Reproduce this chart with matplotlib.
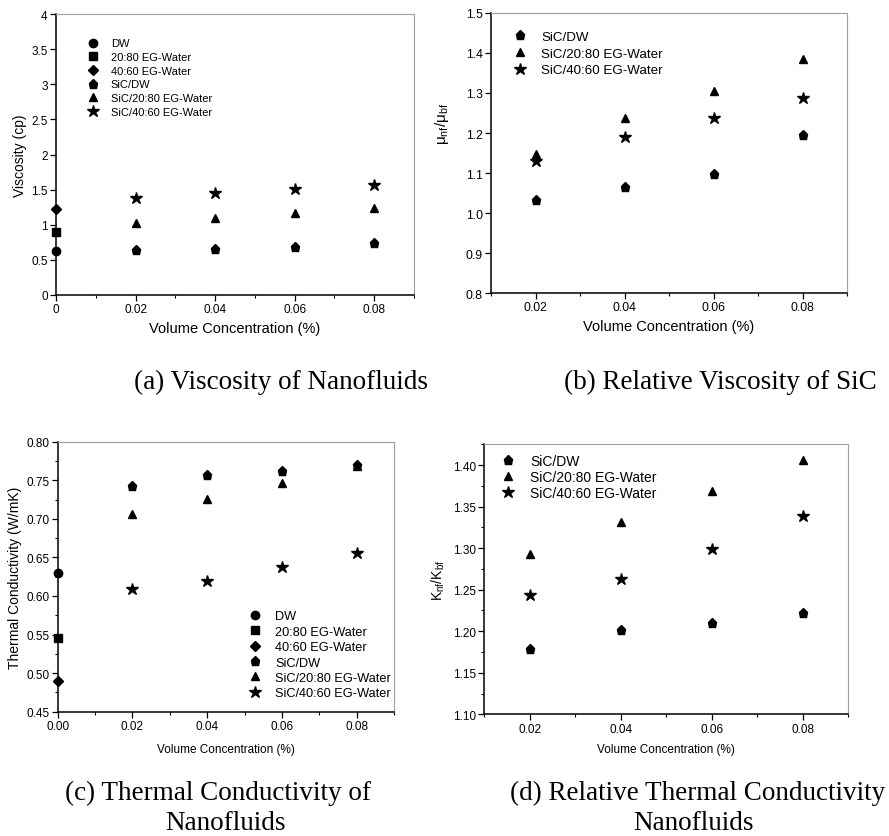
import matplotlib
matplotlib.use("Agg")
import matplotlib.pyplot as plt
from matplotlib.ticker import MultipleLocator, FormatStrFormatter, AutoMinorLocator

plt.rcParams['font.family'] = ['Liberation Sans', 'DejaVu Sans']
plt.rcParams['mathtext.fontset'] = 'custom'
plt.rcParams['mathtext.rm'] = 'Liberation Sans'
plt.rcParams['mathtext.it'] = 'Liberation Sans'
plt.rcParams['mathtext.default'] = 'regular'

# ---- data ----
conc = [0.02, 0.04, 0.06, 0.08]
base_x = [0.0]

visc_dw = [0.62]
visc_2080 = [0.90]
visc_4060 = [1.22]
visc_sic_dw = [0.64, 0.66, 0.68, 0.74]
visc_sic_2080 = [1.03, 1.10, 1.17, 1.24]
visc_sic_4060 = [1.38, 1.45, 1.51, 1.57]

rel_visc_sic_dw = [1.033, 1.065, 1.097, 1.194]
rel_visc_sic_2080 = [1.148, 1.238, 1.305, 1.384]
rel_visc_sic_4060 = [1.131, 1.189, 1.238, 1.288]

tc_dw = [0.630]
tc_2080 = [0.546]
tc_4060 = [0.490]
tc_sic_dw = [0.743, 0.757, 0.762, 0.770]
tc_sic_2080 = [0.706, 0.726, 0.747, 0.768]
tc_sic_4060 = [0.609, 0.619, 0.637, 0.656]

rel_tc_sic_dw = [1.179, 1.201, 1.210, 1.222]
rel_tc_sic_2080 = [1.293, 1.331, 1.369, 1.406]
rel_tc_sic_4060 = [1.243, 1.263, 1.299, 1.339]

labels_base = ['DW', '20:80 EG-Water', '40:60 EG-Water']
labels_sic = ['SiC/DW', 'SiC/20:80 EG-Water', 'SiC/40:60 EG-Water']

fig = plt.figure(figsize=(8.89, 8.37), dpi=100)

MK = dict(color='black', linestyle='none', clip_on=False, zorder=3)


def style_axes(ax, tick_fs, y_minor):
    for side in ('top', 'right'):
        ax.spines[side].set_color('#a0a0a0')
        ax.spines[side].set_linewidth(0.8)
    for side in ('left', 'bottom'):
        ax.spines[side].set_color('black')
        ax.spines[side].set_linewidth(1.1)
    ax.tick_params(which='major', direction='out', length=4, width=0.9,
                   labelsize=tick_fs, pad=2)
    ax.tick_params(which='minor', direction='out', length=2.5, width=0.8)
    ax.xaxis.set_major_locator(MultipleLocator(0.02))
    ax.xaxis.set_minor_locator(AutoMinorLocator(2))
    if y_minor:
        ax.yaxis.set_minor_locator(AutoMinorLocator(2))


def draw_base(ax, dw, b2080, b4060, ms):
    ax.plot(base_x, dw, marker='o', markersize=ms, label=labels_base[0], **MK)
    ax.plot(base_x, b2080, marker='s', markersize=ms * 0.9, label=labels_base[1], **MK)
    ax.plot(base_x, b4060, marker='D', markersize=ms * 0.8, label=labels_base[2], **MK)


def draw_sic(ax, dw, b2080, b4060, ms):
    ax.plot(conc, dw, marker='p', markersize=ms * 1.1, label=labels_sic[0], **MK)
    ax.plot(conc, b2080, marker='^', markersize=ms, label=labels_sic[1], **MK)
    ax.plot(conc, b4060, marker='*', markersize=ms * 1.5, label=labels_sic[2], **MK)


# (a) viscosity
ax = fig.add_axes([0.063, 0.6464, 0.4027, 0.3356])
draw_base(ax, visc_dw, visc_2080, visc_4060, 6)
draw_sic(ax, visc_sic_dw, visc_sic_2080, visc_sic_4060, 6)
ax.set_xlim(0, 0.09)
ax.set_ylim(0, 4)
ax.yaxis.set_major_locator(MultipleLocator(0.5))
ax.xaxis.set_major_formatter(FormatStrFormatter('%g'))
ax.yaxis.set_major_formatter(FormatStrFormatter('%g'))
style_axes(ax, 8.5, False)
ax.set_xlabel('Volume Concentration (%)', fontsize=10.5, labelpad=4)
ax.set_ylabel('Viscosity (cp)', fontsize=10, labelpad=3)
ax.legend(loc='upper left', bbox_to_anchor=(0.06, 0.929), frameon=False,
          fontsize=8, handletextpad=0.6, labelspacing=0.33, borderaxespad=0)

# (b) relative viscosity
ax = fig.add_axes([0.5523, 0.6487, 0.4005, 0.3346])
draw_sic(ax, rel_visc_sic_dw, rel_visc_sic_2080, rel_visc_sic_4060, 6)
ax.set_xlim(0.01, 0.09)
ax.set_ylim(0.8, 1.5)
ax.yaxis.set_major_locator(MultipleLocator(0.1))
ax.xaxis.set_major_formatter(FormatStrFormatter('%.2f'))
ax.yaxis.set_major_formatter(FormatStrFormatter('%.1f'))
style_axes(ax, 8.7, False)
ax.set_xlabel('Volume Concentration (%)', fontsize=10.5, labelpad=4)
ax.set_ylabel(r'μ$_{nf}$/μ$_{bf}$', fontsize=11)
ax.yaxis.set_label_coords(-0.112, 0.607)
ax.legend(loc='upper left', bbox_to_anchor=(0.028, 0.957), frameon=False,
          fontsize=9.6, handletextpad=0.6, labelspacing=0.34, borderaxespad=0)

# (c) thermal conductivity
ax = fig.add_axes([0.0649, 0.1485, 0.3783, 0.3226])
draw_base(ax, tc_dw, tc_2080, tc_4060, 6)
draw_sic(ax, tc_sic_dw, tc_sic_2080, tc_sic_4060, 6)
ax.set_xlim(0, 0.09)
ax.set_ylim(0.45, 0.80)
ax.yaxis.set_major_locator(MultipleLocator(0.05))
ax.xaxis.set_major_formatter(FormatStrFormatter('%.2f'))
ax.yaxis.set_major_formatter(FormatStrFormatter('%.2f'))
style_axes(ax, 8.5, True)
ax.set_xlabel('Volume Concentration (%)', fontsize=8.5, labelpad=8)
ax.set_ylabel('Thermal Conductivity (W/mK)', fontsize=10, labelpad=3)
ax.legend(loc='upper left', bbox_to_anchor=(0.533, 0.395), frameon=False,
          fontsize=9.2, handletextpad=0.6, labelspacing=0.27, borderaxespad=0)

# (d) relative thermal conductivity
ax = fig.add_axes([0.5448, 0.1454, 0.4094, 0.3226])
draw_sic(ax, rel_tc_sic_dw, rel_tc_sic_2080, rel_tc_sic_4060, 6)
ax.set_xlim(0.01, 0.09)
ax.set_ylim(1.10, 1.425)
ax.yaxis.set_major_locator(MultipleLocator(0.05))
ax.xaxis.set_major_formatter(FormatStrFormatter('%.2f'))
ax.yaxis.set_major_formatter(FormatStrFormatter('%.2f'))
style_axes(ax, 8.5, True)
ax.set_xlabel('Volume Concentration (%)', fontsize=8.5, labelpad=6)
ax.set_ylabel(r'K$_{nf}$/K$_{bf}$', fontsize=10, labelpad=4)
ax.legend(loc='upper left', bbox_to_anchor=(0.012, 0.984), frameon=False,
          fontsize=10, handletextpad=0.6, labelspacing=0.14, borderaxespad=0)

# captions
cap = dict(family=['Liberation Serif', 'DejaVu Serif'], fontsize=19.5,
           ha='center', va='baseline')
fig.text(281 / 889, 1 - 389 / 837, '(a) Viscosity of Nanofluids', **cap)
fig.text(720 / 889, 1 - 389 / 837, '(b) Relative Viscosity of SiC', **cap)
fig.text(218 / 889, 1 - 800 / 837, '(c) Thermal Conductivity of', **cap)
fig.text(226 / 889, 1 - 830 / 837, 'Nanofluids', **cap)
fig.text(698 / 889, 1 - 800 / 837, '(d) Relative Thermal Conductivity', **cap)
fig.text(694 / 889, 1 - 830 / 837, 'Nanofluids', **cap)

fig.savefig('out.png', dpi=100)
